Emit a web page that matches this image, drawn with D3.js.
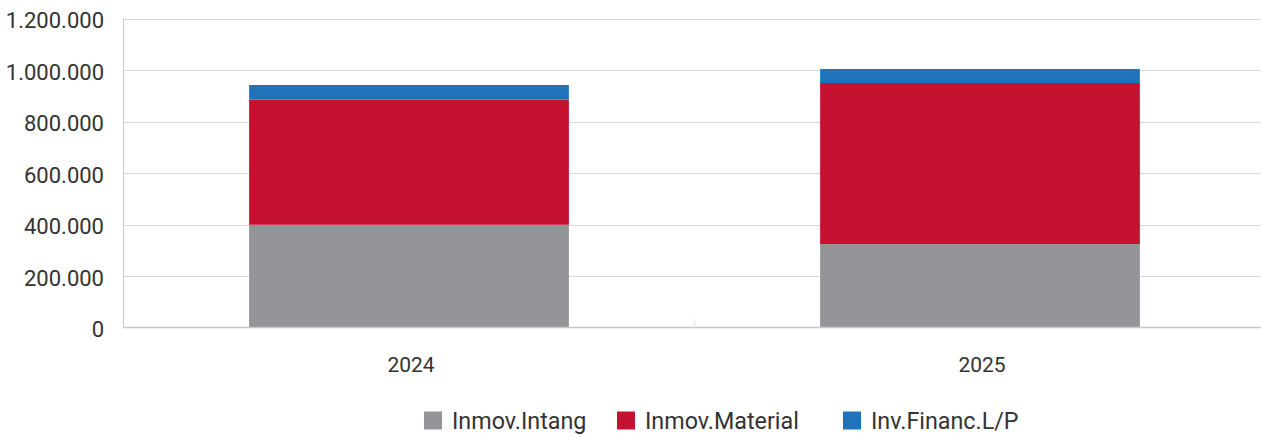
<!DOCTYPE html>
<html><head><meta charset="utf-8">
<script src="https://cdn.jsdelivr.net/npm/d3@7"></script>
<style>body{margin:0;background:#fff}svg{display:block}text{font-family:Roboto,"DejaVu Sans",sans-serif;fill:#333}</style>
</head><body><svg id="c" width="1261" height="437"></svg>
<script>
const categories = ["2024", "2025"];
const seriesNames = ["Inmov.Intang", "Inmov.Material", "Inv.Financ.L/P"];
const intang = [399000, 324000];
const material = [485700, 625500];
const financ = [57000, 54500];
const yTicks = [0, 200000, 400000, 600000, 800000, 1000000, 1200000];
const colors = ["#939598", "#c41230", "#1f73b9"];

(function () {
const svg = d3.select("#c");
const pLeft = 123.5, pRight = 1265.5, pTop = 18.5, pBottom = 327.5;
const x = d3.scaleBand().domain(categories).range([pLeft, pRight]);
const y = d3.scaleLinear().domain([0, 1200000]).range([pBottom, pTop]);
const fmt = v => d3.format(",")(v).replace(/,/g, ".");

// gridlines
svg.append("g").selectAll("line").data(yTicks.filter(d => d > 0)).join("line")
  .attr("x1", pLeft).attr("x2", 1261).attr("y1", d => Math.round(y(d)) + 0.5).attr("y2", d => Math.round(y(d)) + 0.5)
  .attr("stroke", "#d9d9d9").attr("stroke-width", 1);

// y labels
svg.append("g").selectAll("text").data(yTicks).join("text")
  .attr("x", 104).attr("y", d => y(d) + 2).attr("dy", "0.36em").attr("text-anchor", "end")
  .attr("font-size", 22).text(d => fmt(d));

// stacked bars
const rows = categories.map((c, i) => ({cat: c, a: intang[i], b: material[i], c2: financ[i]}));
const stack = d3.stack().keys(["a", "b", "c2"])(rows);
const barW = x.bandwidth() * 0.56;
svg.append("g").selectAll("g").data(stack).join("g").attr("fill", (d, i) => colors[i])
  .selectAll("rect").data(d => d).join("rect")
  .attr("x", d => x(d.data.cat) + (x.bandwidth() - barW) / 2)
  .attr("width", barW)
  .attr("y", d => y(d[1])).attr("height", d => y(d[0]) - y(d[1]));

// axes lines
svg.append("line").attr("x1", pLeft).attr("x2", pLeft).attr("y1", pTop).attr("y2", pBottom).attr("stroke", "#c8c8c8");
svg.append("line").attr("x1", pLeft).attr("x2", 1261).attr("y1", pBottom).attr("y2", pBottom).attr("stroke", "#c8c8c8").attr("stroke-width", 1.5);
svg.append("line").attr("x1", x("2025") + 0.5).attr("x2", x("2025") + 0.5).attr("y1", pBottom - 8).attr("y2", pBottom).attr("stroke", "#e6e6e6");

// x labels
svg.append("g").selectAll("text").data(categories).join("text")
  .attr("x", d => x(d) + x.bandwidth() / 2 + 2).attr("y", 364).attr("dy", "0.36em")
  .attr("text-anchor", "middle").attr("font-size", 21).text(d => d);

// legend
const legX = [424, 617, 843];
const lg = svg.append("g").selectAll("g").data(seriesNames).join("g")
  .attr("transform", (d, i) => `translate(${legX[i]},411.5)`);
lg.append("rect").attr("width", 18).attr("height", 18).attr("fill", (d, i) => colors[i]);
lg.append("text").attr("x", 28).attr("y", 17.5).attr("font-size", 23.3).text(d => d);
})();
</script></body></html>
